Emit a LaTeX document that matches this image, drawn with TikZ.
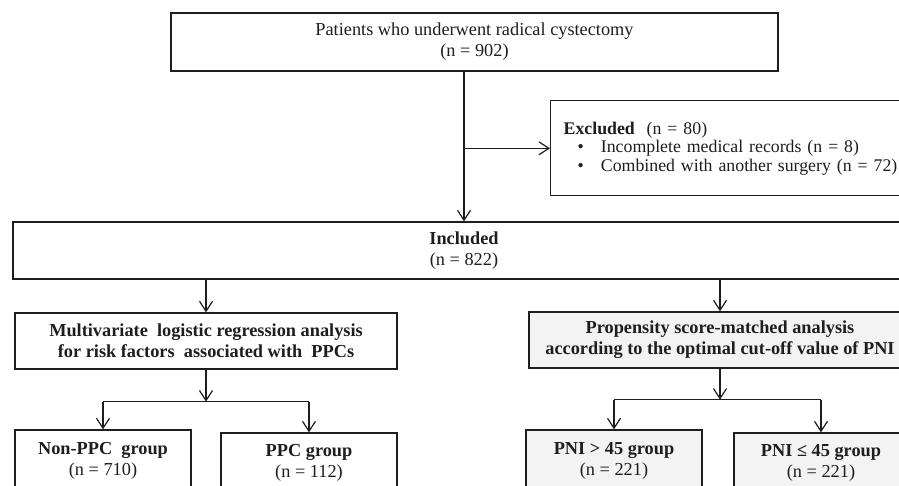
\documentclass[tikz,border=0pt]{standalone}
\usepackage{fontspec}
\setmainfont{Liberation Serif}
\usetikzlibrary{arrows.meta,calc}
\definecolor{ink}{HTML}{1E1E1E}
\definecolor{lightfill}{HTML}{F3F3F3}
\begin{document}
\begin{tikzpicture}[x=1pt,y=-1pt,
  box/.style={draw=ink, line width=1.3pt, rectangle, inner sep=0pt, align=center,
    font=\fontsize{18.3}{21}\selectfont, text=ink},
  gbox/.style={box, fill=lightfill},
  arr/.style={line width=1.2pt, draw=ink, -{Straight Barb[length=10pt,width=13pt,line width=1.2pt]}},
  ln/.style={line width=1.2pt, draw=ink}]
\useasboundingbox (0,0) rectangle (899,486);
\clip (0,0) rectangle (899,486);
\fill[white] (0,0) rectangle (899,486);
\node[box, minimum width=607pt, minimum height=58pt] (top) at (474.5,42)
  {Patients who underwent radical cystectomy\\(n = 902)};
\node[box, minimum width=902pt, minimum height=57pt] (inc) at (464,250.5)
  {\textbf{Included}\\(n = 822)};
\node[box, anchor=west, minimum height=95pt, text width=334pt, inner xsep=13pt,
  align=left, font=\fontsize{17.8}{18.5}\selectfont] (exc) at (550,148.3)
  {\textbf{Excluded}\ \ (n = 80)\\
   \hspace*{14pt}\textbullet\hspace{17pt}Incomplete medical\ records (n = 8)\\
   \hspace*{14pt}\textbullet\hspace{17pt}Combined with another surgery (n = 72)};
\node[box, minimum width=382pt, minimum height=56pt] (mult) at (206,341)
  {\textbf{Multivariate\ \ logistic regression analysis}\\\textbf{for risk factors\ \ associated with\ \ PPCs}};
\node[gbox, minimum width=382pt, minimum height=56pt] (prop) at (720,340)
  {\textbf{Propensity score-matched analysis}\\\textbf{according to the optimal cut-off value of PNI}};
\node[box, minimum width=176pt, minimum height=62pt] (nonppc) at (103,461)
  {\textbf{Non-PPC\ \ group}\\(n = 710)};
\node[box, minimum width=176pt, minimum height=59pt] (ppc) at (309,462.5)
  {\textbf{PPC group}\\(n = 112)};
\node[gbox, minimum width=176pt, minimum height=62pt] (pnig) at (614,461)
  {\textbf{PNI > 45 group}\\(n = 221)};
\node[gbox, minimum width=174pt, minimum height=59pt] (pnil) at (821,462.5)
  {\textbf{PNI ≤ 45 group}\\(n = 221)};
\draw[arr] (top.south -| inc.north) -- (inc.north);
\draw[arr] (inc.north |- exc.west) -- (exc.west);
\draw[arr] (inc.south -| mult.north) -- (mult.north);
\draw[arr] (inc.south -| prop.north) -- (prop.north);
\coordinate (s1) at ($(mult.south)+(0,32)$);
\coordinate (s2) at ($(prop.south)+(0,31)$);
\draw[arr] (mult.south) -- (s1);
\draw[ln] (s1 -| nonppc.north) -- (s1 -| ppc.north);
\draw[arr] (s1 -| nonppc.north) -- (nonppc.north);
\draw[arr] (s1 -| ppc.north) -- (ppc.north);
\draw[arr] (prop.south) -- (s2);
\draw[ln] (s2 -| pnig.north) -- (s2 -| pnil.north);
\draw[arr] (s2 -| pnig.north) -- (pnig.north);
\draw[arr] (s2 -| pnil.north) -- (pnil.north);
\end{tikzpicture}
\end{document}
